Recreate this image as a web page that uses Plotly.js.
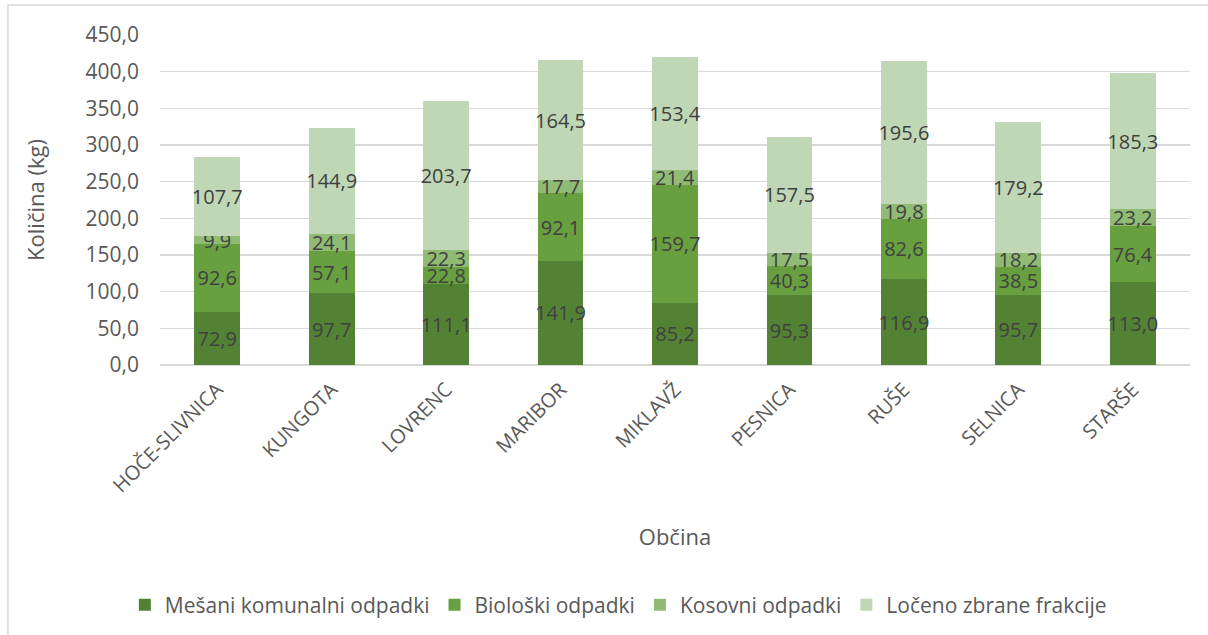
<!DOCTYPE html>
<html>
<head>
<meta charset="utf-8">
<script src="https://cdn.plot.ly/plotly-3.0.1.min.js"></script>
<style>html,body{margin:0;padding:0;background:#fff;}#chart{width:1208px;height:635px;}</style>
</head>
<body>
<div id="chart"></div>
<script>
const categories = ["HOČE-SLIVNICA","KUNGOTA","LOVRENC","MARIBOR","MIKLAVŽ","PESNICA","RUŠE","SELNICA","STARŠE"];
const mesani = [72.9, 97.7, 111.1, 141.9, 85.2, 95.3, 116.9, 95.7, 113.0];
const bioloski = [92.6, 57.1, 22.8, 92.1, 159.7, 40.3, 82.6, 38.5, 76.4];
const kosovni = [9.9, 24.1, 22.3, 17.7, 21.4, 17.5, 19.8, 18.2, 23.2];
const loceno = [107.7, 144.9, 203.7, 164.5, 153.4, 157.5, 195.6, 179.2, 185.3];
const seriesNames = ["Mešani komunalni odpadki","Biološki odpadki","Kosovni odpadki","Ločeno zbrane frakcije"];
const yTicks = [0,50,100,150,200,250,300,350,400,450];

const colors = ["#548235","#68a040","#8fbb74","#bfd7b4"];
const fontFam = "'Open Sans', 'Noto Sans', sans-serif";
const fmt = v => v.toFixed(1).replace('.', ',');

const data = [mesani, bioloski, kosovni, loceno].map((vals, i) => ({
  type: 'bar',
  name: seriesNames[i],
  x: categories,
  y: vals,
  text: vals.map(fmt),
  textposition: 'inside',
  insidetextanchor: 'middle',
  textangle: 0,
  textfont: {family: fontFam, size: 20, color: '#404040'},
  marker: {color: colors[i], line: {width: 0}},
  hoverinfo: 'none'
}));

const layout = {
  width: 1208, height: 635,
  margin: {l: 160, r: 18, t: 35, b: 269},
  paper_bgcolor: '#ffffff', plot_bgcolor: '#ffffff',
  barmode: 'stack',
  bargap: 0.6,
  separators: ',.',
  uniformtext: {mode: 'show', minsize: 20},
  font: {family: fontFam, color: '#595959', size: 18},
  xaxis: {
    type: 'category',
    tickangle: -45,
    tickfont: {family: fontFam, size: 20, color: '#595959'},
    showgrid: false, showline: false, zeroline: false,
    ticks: '',
    ticklabelstandoff: 8,
    title: {text: 'Občina', font: {family: fontFam, size: 22, color: '#595959'}, standoff: 32}
  },
  yaxis: {
    range: [0, 450],
    tickvals: yTicks,
    ticktext: yTicks.map(fmt),
    tickfont: {family: fontFam, size: 21, color: '#595959'},
    gridcolor: '#d9d9d9', gridwidth: 1.5,
    zeroline: true, zerolinecolor: '#d9d9d9', zerolinewidth: 1.5,
    showline: false, ticks: '',
    ticklabelstandoff: 20,
    title: {text: 'Količina (kg)', font: {family: fontFam, size: 22, color: '#595959'}, standoff: 34}
  },
  legend: {
    orientation: 'h',
    x: 0.445, xanchor: 'center',
    y: -0.722, yanchor: 'middle',
    font: {family: fontFam, size: 21, color: '#595959'},
    traceorder: 'normal',
    itemwidth: 30
  },
  shapes: [{
    type: 'rect', xref: 'paper', yref: 'paper',
    x0: -0.1476, x1: 1.0243, y0: -0.843, y1: 1.0906,
    line: {color: '#d9d9d9', width: 1.5}, fillcolor: 'rgba(0,0,0,0)', layer: 'below'
  }],
  showlegend: true
};

Plotly.newPlot('chart', data, layout, {displayModeBar: false, staticPlot: true});
</script>
</body>
</html>
